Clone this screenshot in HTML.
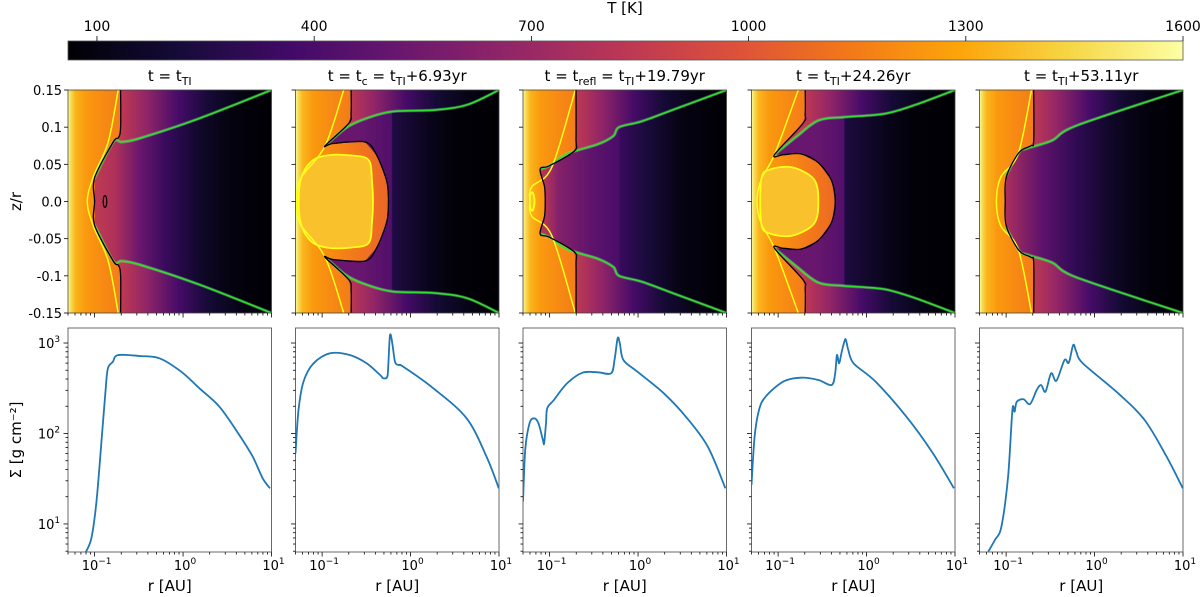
<!DOCTYPE html>
<html><head><meta charset="utf-8"><style>
html,body{margin:0;padding:0;background:#fff;}
svg{display:block;}
text{font-family:"DejaVu Sans","Liberation Sans",sans-serif;fill:#000;}
</style></head><body>
<svg id="fig" width="1200" height="597" viewBox="0 0 1200 597" xmlns="http://www.w3.org/2000/svg"><defs id="defs"></defs></svg>
<script>
// ---------- data ----------
const panelTitles = [
  [["t = t",0],["TI",1]],
  [["t = t",0],["c",1],[" = t",0],["TI",1],["+6.93yr",0]],
  [["t = t",0],["refl",1],[" = t",0],["TI",1],["+19.79yr",0]],
  [["t = t",0],["TI",1],["+24.26yr",0]],
  [["t = t",0],["TI",1],["+53.11yr",0]]
];
const cbarTicks = [100,400,700,1000,1300,1600];
const zTicks = [0.15,0.1,0.05,0.0,-0.05,-0.1,-0.15];
const zTickLabels = ["0.15","0.1","0.05","0.0","-0.05","-0.1","-0.15"];
const rMajor = [-1,0,1];
const sMajor = [1,2,3];

// contours (log10 r [AU], z/r), upper half, mirrored for lower half
const greenLR = [
  [-1.008,-0.79,-0.695,-0.488,0.189,1.0],
  [-0.966,-0.718,-0.492,-0.21,0.26,0.637,1.0],
  [-1.111,-1.002,-0.803,-0.454,-0.28,-0.214,0.045,0.442,1.0],
  [-1.041,-0.793,-0.545,-0.246,0.202,0.55,1.0],
  [-1.0,-0.853,-0.778,-0.48,-0.206,1.0]
];
const greenZ = [
  [0.03,0.08,0.08,0.085,0.112,0.15],
  [0.075,0.1,0.112,0.121,0.123,0.13,0.15],
  [0.0435,0.048,0.064,0.077,0.088,0.1,0.108,0.1255,0.15],
  [0.063,0.087,0.109,0.1135,0.118,0.13,0.15],
  [0.035,0.066,0.071,0.082,0.102,0.15]
];
const blackLR = [
  [-0.706,-0.706,-0.73,-0.79,-1.0,-1.0],
  [-0.672,-0.672,-0.70,-0.966,-0.875,-0.514,-0.382,-0.269,-0.251],
  [-0.702,-0.702,-0.72,-1.002,-1.108,-1.058,-1.05],
  [-0.694,-0.694,-0.72,-1.041,-0.94,-0.742,-0.545,-0.395,-0.355],
  [-0.688,-0.688,-0.72,-0.853,-0.998,-1.01]
];
const blackZ = [
  [0.15,0.10,0.086,0.08,0.032,0],
  [0.15,0.12,0.105,0.075,0.078,0.08,0.062,0.027,0],
  [0.15,0.085,0.068,0.048,0.0435,0.02,0],
  [0.15,0.118,0.105,0.063,0.063,0.064,0.052,0.028,0],
  [0.15,0.082,0.075,0.066,0.033,0]
];
const yellowLR = [
  [-0.733,-0.846,-1.015,-1.083],
  [-0.756,-0.966,-1.248,-1.286],
  [-0.71,-0.975,-1.2,-1.224],
  [-0.772,-1.041,-1.19,-1.24],
  [-0.713,-0.863,-1.06,-1.11]
];
const yellowZ = [
  [0.15,0.08,0.033,0],
  [0.15,0.075,0.03,0],
  [0.15,0.046,0.02,0],
  [0.15,0.063,0.03,0],
  [0.15,0.064,0.033,0]
];
const blobLR = [
  [],
  [-1.25,-1.13,-0.943,-0.68,-0.474,-0.436,-0.425],
  [-1.22,-1.19,-1.17],
  [-1.19,-1.092,-0.843,-0.595,-0.545],
  []
];
const blobZ = [
  [],
  [0.025,0.053,0.062,0.062,0.056,0.027,0],
  [0.008,0.012,0],
  [0.03,0.043,0.046,0.03,0],
  []
];
const islandLR = [-0.883];
const islandZ = [0.008];

// temperature profiles [K]
const hotLR = [-1.301,-1.27,-1.22,-1.1,-0.9,-0.6,-0.3];
const hotT  = [1590,1470,1340,1250,1200,1130,1080];
const atmLR = [-1.301,-0.71,-0.4,-0.05,0.3,0.65,1.0];
const atmT  = [880,850,660,380,200,110,65];
const midLR = [
  [-1.0,-0.77,-0.49,-0.19,0.19,0.56,1.0],
  [-0.6,-0.3,-0.215,-0.205,0.2,0.5,1.0],
  [-1.05,-0.9,-0.5,-0.22,-0.2,0.1,0.5,1.0],
  [-0.6,-0.3,-0.255,-0.245,0.2,0.5,1.0],
  [-1.0,-0.6,-0.2,0.2,0.6,1.0]
];
const midT = [
  [850,780,520,330,170,90,60],
  [520,450,430,250,130,75,60],
  [800,620,470,400,330,220,100,60],
  [520,450,430,240,130,75,60],
  [760,480,300,160,80,60]
];
const blobT = 1380;

// surface density (log10 r [AU], log10 Sigma [g cm^-2])
const sigLR = [
  [-1.101,-1.037,-0.981,-0.924,-0.876,-0.85,-0.793,-0.737,-0.49,-0.266,-0.021,0.185,0.411,0.636,0.787,0.9,0.983],
  [-1.301,-1.267,-1.211,-1.098,-0.91,-0.684,-0.495,-0.345,-0.308,-0.263,-0.251,-0.232,-0.206,-0.176,-0.138,-0.082,0.257,0.634,0.859,0.998],
  [-1.301,-1.276,-1.227,-1.176,-1.126,-1.076,-1.062,-1.041,-1.027,-0.952,-0.803,-0.628,-0.454,-0.305,-0.266,-0.231,-0.206,-0.166,-0.007,0.291,0.54,0.789,0.988],
  [-1.301,-1.266,-1.216,-1.142,-0.942,-0.743,-0.545,-0.395,-0.355,-0.335,-0.31,-0.285,-0.256,-0.236,-0.206,-0.146,0.102,0.451,0.75,0.988],
  [-1.202,-1.127,-1.053,-0.978,-0.929,-0.904,-0.879,-0.803,-0.729,-0.654,-0.605,-0.555,-0.491,-0.431,-0.34,-0.291,-0.241,-0.206,-0.132,0.267,0.566,0.814,0.998]
];
const sigLS = [
  [0.687,0.842,1.229,1.892,2.481,2.72,2.793,2.867,2.856,2.831,2.683,2.499,2.296,1.983,1.744,1.505,1.394],
  [1.781,2.26,2.573,2.775,2.886,2.867,2.775,2.646,2.61,2.628,2.775,3.088,2.996,2.794,2.757,2.738,2.5,2.168,1.744,1.394],
  [1.247,1.818,2.112,2.168,2.112,1.928,1.891,2.112,2.278,2.37,2.554,2.672,2.676,2.665,2.812,3.052,2.997,2.812,2.683,2.444,2.186,1.854,1.394],
  [1.431,1.965,2.26,2.407,2.573,2.617,2.591,2.536,2.665,2.867,2.775,2.886,2.997,3.041,2.923,2.775,2.573,2.186,1.781,1.394],
  [0.694,0.823,0.97,1.523,2.26,2.241,2.351,2.378,2.326,2.481,2.536,2.462,2.665,2.583,2.812,2.782,2.978,2.904,2.775,2.444,2.149,1.744,1.394]
];

// ---------- geometry ----------
const NS="http://www.w3.org/2000/svg";
const svg=document.getElementById('fig');
const defs=document.getElementById('defs');
const LMIN=Math.log10(0.05), LMAX=1;
const PL=[68,295.5,523,751.5,979.5], PW=203.5;
const TOP0=90, TOP1=313, BOT0=328, BOT1=552;
const SMIN=0.69, SMAX=3.166;
const TMIN=60, TMAX=1600, CB0=68, CB1=1183;
function xs(p,lr){return PL[p]+(lr-LMIN)/(LMAX-LMIN)*PW;}
function zy(z){return TOP0+(0.15-z)/0.3*(TOP1-TOP0);}
function sy(ls){return BOT0+(SMAX-ls)/(SMAX-SMIN)*(BOT1-BOT0);}
function cx(T){return CB0+(T-TMIN)/(TMAX-TMIN)*(CB1-CB0);}

const INF=[[0,0,0,4],[0.1,22,11,57],[0.2,66,10,104],[0.3,106,23,110],[0.4,147,38,103],[0.5,188,55,84],[0.6,221,81,58],[0.7,243,120,25],[0.8,252,165,10],[0.9,246,215,70],[1,252,255,164]];
function inferno(T){
  let t=Math.max(0,Math.min(1,(T-TMIN)/(TMAX-TMIN)));
  for(let i=1;i<INF.length;i++){ if(t<=INF[i][0]){const a=INF[i-1],b=INF[i];const f=(t-a[0])/(b[0]-a[0]);
    return 'rgb('+[1,2,3].map(k=>Math.round(a[k]+(b[k]-a[k])*f)).join(',')+')';}}
  return 'rgb(252,255,164)';
}
function mk(tag,attrs,parent){const e=document.createElementNS(NS,tag);for(const k in attrs)e.setAttribute(k,attrs[k]);(parent||svg).appendChild(e);return e;}
function grad(id,x1,x2,lrs,ts){
  const g=mk('linearGradient',{id:id,gradientUnits:'userSpaceOnUse',x1:x1,x2:x2,y1:0,y2:0},defs);
  for(let i=0;i<lrs.length;i++){
    const off=Math.max(0,Math.min(1,(lrs[i]-LMIN)/(LMAX-LMIN)));
    mk('stop',{offset:off,'stop-color':inferno(ts[i])},g);
  }
}
function txt(x,y,s,size,anchor,parent){const t=mk('text',{x:x,y:y,'font-size':size,'text-anchor':anchor||'middle'},parent);t.textContent=s;return t;}
function pow10(x,y,exp,parent){
  const t=mk('text',{x:x,y:y,'font-size':13,'text-anchor':'middle'},parent);
  const a=mk('tspan',{},t);a.textContent='10';
  const b=mk('tspan',{dy:-6,'font-size':9},t);b.textContent=exp;
  return t;
}
// smooth path through points (Catmull-Rom -> cubic Bezier)
function smooth(a,closed){
  const n=a.length; if(n<3) return 'M'+a.map(q=>q[0].toFixed(1)+','+q[1].toFixed(1)).join(' L')+(closed?'Z':'');
  const g=i=>closed?a[(i+n)%n]:a[Math.max(0,Math.min(n-1,i))];
  let d='M'+a[0][0].toFixed(1)+','+a[0][1].toFixed(1);
  const last=closed?n:n-1;
  for(let i=0;i<last;i++){
    const p0=g(i-1),p1=g(i),p2=g(i+1),p3=g(i+2);
    const k=0.16;
    const c1=[p1[0]+(p2[0]-p0[0])*k,p1[1]+(p2[1]-p0[1])*k];
    const c2=[p2[0]-(p3[0]-p1[0])*k,p2[1]-(p3[1]-p1[1])*k];
    d+=' C'+c1[0].toFixed(1)+','+c1[1].toFixed(1)+' '+c2[0].toFixed(1)+','+c2[1].toFixed(1)+' '+p2[0].toFixed(1)+','+p2[1].toFixed(1);
  }
  return d+(closed?'Z':'');
}

// ---------- colorbar ----------
const cbG=mk('g',{});


const cg=mk('linearGradient',{id:'cbgrad',x1:0,x2:1,y1:0,y2:0},defs);
for(let i=0;i<=40;i++){const T=TMIN+(TMAX-TMIN)*i/40;mk('stop',{offset:i/40,'stop-color':inferno(T)},cg);}
const cbr=mk('rect',{x:CB0,y:41,width:CB1-CB0,height:19,fill:'url(#cbgrad)',stroke:'#555','stroke-width':0.8},cbG);


cbarTicks.forEach(T=>{
  const x=cx(T);
  mk('line',{x1:x,x2:x,y1:36,y2:41,stroke:'#000','stroke-width':0.8},cbG);
  const l=txt(x,31,String(T),14,'middle',cbG);
  
  
});
const cbt=txt(625,13,'T [K]',15,'middle',cbG);



// ---------- panels ----------
function pts(p,lrs,zs,sign){return lrs.map((l,i)=>[xs(p,l),zy(sign*zs[i])]);}
function poly(a){return a.map(q=>q[0].toFixed(1)+','+q[1].toFixed(1)).join(' ');}

for(let p=0;p<5;p++){
  const L=PL[p], R=PL[p]+PW;
  const cp=mk('clipPath',{id:'clip'+p},defs);
  mk('rect',{x:L,y:TOP0,width:PW,height:TOP1-TOP0},cp);
  grad('hot'+p,L,R,hotLR,hotT);
  grad('atm'+p,L,R,atmLR,atmT);
  grad('mid'+p,L,R,midLR[p],midT[p]);
  const hm=mk('g',{'clip-path':'url(#clip'+p+')'});
  
  
  mk('rect',{x:L,y:TOP0,width:PW,height:TOP1-TOP0,fill:'url(#atm'+p+')'},hm);
  const gu=pts(p,greenLR[p],greenZ[p],1), gl=pts(p,greenLR[p],greenZ[p],-1);
  const midPath=gu.concat(gl.slice().reverse()).concat([[L,gl[0][1]],[L,gu[0][1]]]);
  const mp=mk('polygon',{points:poly(midPath),fill:'url(#mid'+p+')'},hm);
  
  
  const bu=pts(p,blackLR[p],blackZ[p],1), bl=pts(p,blackLR[p],blackZ[p],-1);
  const blackLine=bu.concat(bl.slice(0,-1).reverse());
  const hp=mk('polygon',{points:poly([[L,TOP0]].concat(blackLine).concat([[L,TOP1]])),fill:'url(#hot'+p+')'},hm);
  
  
  let blobLine=null;
  if(blobLR[p].length){
    const yu=pts(p,blobLR[p],blobZ[p],1), yl=pts(p,blobLR[p],blobZ[p],-1);
    blobLine=yu.concat(yl.slice(0,-1).reverse().slice(0,-0||undefined));
    const bp=mk('path',{d:smooth(blobLine,true),fill:inferno(blobT)},hm);
    
    
  }
  [gu,gl].forEach(g=>{
    mk('path',{d:smooth(g,false),fill:'none',stroke:'rgba(150,255,150,0.3)','stroke-width':3.2},hm);
    const gl2=mk('path',{d:smooth(g,false),fill:'none',stroke:'#2ee02e','stroke-width':1.6},hm);
    
    
  });
  const yu=pts(p,yellowLR[p],yellowZ[p],1), yl=pts(p,yellowLR[p],yellowZ[p],-1);
  const yline=mk('path',{d:smooth(yu.concat(yl.slice(0,-1).reverse()),false),fill:'none',stroke:'#ffff1a','stroke-width':1.5},hm);
  
  
  if(blobLine){
    const yb=mk('path',{d:smooth(blobLine,true),fill:'none',stroke:'#ffff1a','stroke-width':1.8},hm);
    
    
  }
  const bline=mk('path',{d:smooth(blackLine,false),fill:'none',stroke:'#000','stroke-width':1.3},hm);
  
  
  if(p===0){
    islandLR.forEach((l,i)=>{
      const el=mk('ellipse',{cx:xs(0,l),cy:zy(0),rx:1.8,ry:(zy(0)-zy(islandZ[i])),fill:'none',stroke:'#000','stroke-width':1.2},hm);
      
      
    });
  }
  mk('rect',{x:L,y:TOP0,width:PW,height:TOP1-TOP0,fill:'none',stroke:'#444','stroke-width':0.8});
  const tt=mk('text',{x:L+PW/2,y:81,'font-size':15,'text-anchor':'middle'});
  
  
  panelTitles[p].forEach(seg=>{
    if(seg[1]){const s=mk('tspan',{'font-size':11,dy:4},tt);s.textContent=seg[0];}
    else{const s=mk('tspan',{dy:(tt.childNodes.length?-4:0)},tt);s.textContent=seg[0];}
  });
  zTicks.forEach((z,i)=>{
    mk('line',{x1:L-4,x2:L,y1:zy(z),y2:zy(z),stroke:'#000','stroke-width':0.8});
    if(p===0){const l=txt(L-6,zy(z)+5,zTickLabels[i],13,'end');
      
      }
  });
  [TOP1,BOT1].forEach(yb=>{
    for(let d=-2;d<=1;d++){for(let m=1;m<=9;m++){
      const lr=d+Math.log10(m); if(lr<LMIN-1e-6||lr>LMAX+1e-6)continue;
      const x=xs(p,lr), major=(m===1);
      mk('line',{x1:x,x2:x,y1:yb,y2:yb+(major?4.5:2.5),stroke:'#000','stroke-width':0.8});
    }}
  });
  const bg=mk('g',{});
  
  
  mk('rect',{x:L,y:BOT0,width:PW,height:BOT1-BOT0,fill:'#fff',stroke:'#444','stroke-width':0.8},bg);
  for(let d=0;d<=3;d++){for(let m=1;m<=9;m++){
    const ls=d+Math.log10(m); if(ls<SMIN||ls>SMAX)continue;
    const y=sy(ls), major=(m===1);
    mk('line',{x1:L-(major?4.5:2.5),x2:L,y1:y,y2:y,stroke:'#000','stroke-width':0.8},bg);
  }}
  if(p===0){sMajor.forEach(s=>{const t=pow10(L-19,sy(s)+5,String(s),bg);
    
    });}
  rMajor.forEach(r=>{const t=pow10(xs(p,r)+2,570,r<0?'\u2212'+Math.abs(r):String(r),bg);
    
    });
  const xl=txt(L+PW/2,591,'r [AU]',15,'middle',bg);
  
  
  const cpb=mk('clipPath',{id:'clipb'+p},defs);
  mk('rect',{x:L,y:BOT0,width:PW,height:BOT1-BOT0},cpb);
  const line=mk('path',{d:smooth(sigLR[p].map((l,i)=>[xs(p,l),sy(sigLS[p][i])]),false),fill:'none',stroke:'#1f77b4','stroke-width':1.8,'stroke-linejoin':'round','clip-path':'url(#clipb'+p+')'},bg);
  
  
}
const zl=mk('text',{x:0,y:0,'font-size':15,'text-anchor':'middle',transform:'translate(21,'+zy(0)+') rotate(-90)'});
zl.textContent='z/r';


const sl=mk('text',{x:0,y:0,'font-size':15,'text-anchor':'middle',transform:'translate(21,440) rotate(-90)'});
sl.textContent='\u03A3 [g cm\u207B\u00B2]';


</script>
</body></html>
